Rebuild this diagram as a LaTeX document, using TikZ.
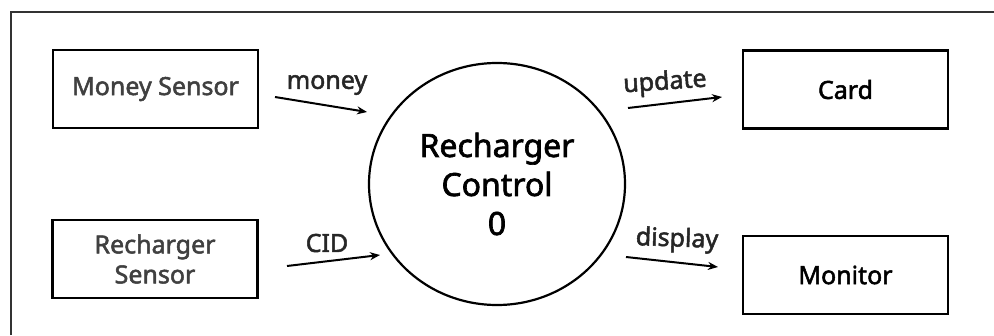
\documentclass[tikz,border=0pt]{standalone}
\usepackage{fontspec}
\setmainfont{Noto Sans}[FakeBold=2.0]
\usetikzlibrary{arrows.meta,shapes.geometric}
\begin{document}
\begin{tikzpicture}[x=1pt,y=1pt,
  ent/.style={draw=black,line width=2.4pt,minimum width=205pt,minimum height=78pt,inner sep=0pt,align=center,font=\fontsize{25}{30}\selectfont},
  proc/.style={draw=black,line width=2.2pt,ellipse,minimum width=256pt,minimum height=242pt,inner sep=0pt,align=center,font=\fontsize{32}{39}\selectfont},
  flow/.style={line width=2pt,-{Stealth[length=10pt,width=8pt]}},
  lbl/.style={font=\fontsize{25}{30}\selectfont,text=black!85,inner sep=0pt}]
\useasboundingbox (0,0) rectangle (994,335);
\fill[white] (0,0) rectangle (994,335);
\draw[line width=1.6pt,black!80] (11,0) -- (11,323) -- (994,323);
\node[ent,text=black!75] (ms) at (155.5,246) {Money Sensor};
\node[ent,text=black!75] (rs) at (155,76) {Recharger\\Sensor};
\node[proc] (rc) at (497,151) {Recharger\\Control\\0};
\node[ent] (card) at (845.5,245.5) {Card};
\node[ent] (mon) at (845.5,60) {Monitor};
\coordinate (m1) at (275,238); \coordinate (m2) at (367,223);
\coordinate (c1) at (287,69);  \coordinate (c2) at (380,80);
\coordinate (u1) at (628,227); \coordinate (u2) at (722,238);
\coordinate (d1) at (626,78);  \coordinate (d2) at (718,68);
\draw[flow] (m1) -- (m2);
\draw[flow] (c1) -- (c2);
\draw[flow] (u1) -- (u2);
\draw[flow] (d1) -- (d2);
\node[lbl] (lm) at (327,250) {money};
\node[lbl] (lc) at (327,92) {CID};
\node[lbl,rotate=4] (lu) at (665,252) {update};
\node[lbl,rotate=-2] (ld) at (677,95) {display};
\end{tikzpicture}
\end{document}
